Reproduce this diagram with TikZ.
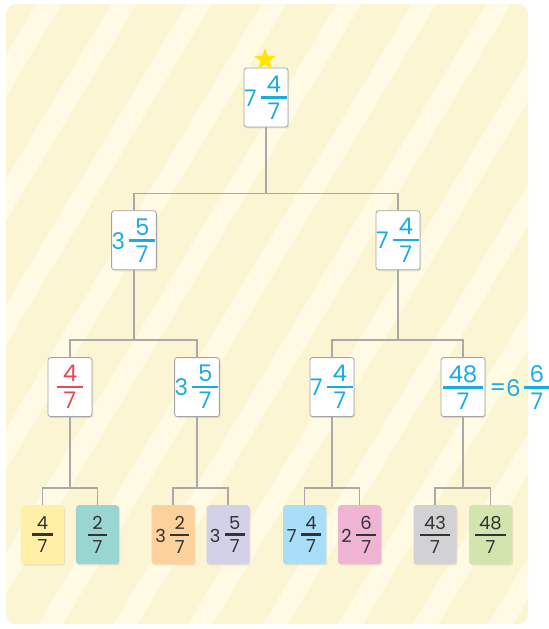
\documentclass[tikz,border=0pt]{standalone}
\usepackage{fix-cm}
\usepackage{amsmath}
\usepackage{xcolor}
\usepackage{fontspec}
\setmainfont{Poppins}
\usepackage{tikz}
\usetikzlibrary{shapes.geometric, positioning, shadows}

\definecolor{bgyellow}{HTML}{FCF5D3}
\definecolor{stripecol}{HTML}{FEFAE3}
\definecolor{numblue}{HTML}{1AABE3}
\definecolor{numred}{HTML}{E8485A}
\definecolor{inkdark}{HTML}{333333}
\definecolor{wiregray}{HTML}{A9A9A9}
\definecolor{cardedge}{HTML}{A5A5A5}
\definecolor{starcol}{HTML}{FFE600}
\definecolor{leafyellow}{HTML}{FFF0A6}
\definecolor{leafteal}{HTML}{9AD6D1}
\definecolor{leaforange}{HTML}{FDD19C}
\definecolor{leaflilac}{HTML}{D3D1E8}
\definecolor{leafblue}{HTML}{A9DEF9}
\definecolor{leafpink}{HTML}{EFB4D4}
\definecolor{leafgray}{HTML}{D2D2D4}
\definecolor{leafgreen}{HTML}{D3E5AF}

% fraction with a bar a little wider than its digits
\newcommand{\fracval}[2]{\genfrac{}{}{2.5bp}{1}%
  {\mbox{\kern.25em\raisebox{0pt}[\height][1.5bp]{#1}\kern.25em}}%
  {\mbox{\raisebox{0pt}[\dimexpr\height+1.5bp\relax][0pt]{#2}}}}
\newcommand{\wholeval}[1]{\mbox{\raisebox{-3bp}{#1}}\kern3bp}
\newcommand{\mixval}[3]{$\wholeval{#1}\fracval{#2}{#3}$}

\begin{document}
\begin{tikzpicture}[x=1bp, y=-1bp]
    % Styles
    \tikzstyle{card} = [rectangle, draw=cardedge, line width=0.8bp, fill=white, text=numblue, rounded corners=2.5bp, minimum width=44bp, minimum height=59bp, inner sep=0pt, font=\fontsize{23}{27}\selectfont, drop shadow={shadow xshift=1.2bp, shadow yshift=-1.5bp, opacity=0.18}]
    \tikzstyle{leaf} = [rectangle, rounded corners=3bp, minimum width=43bp, minimum height=59bp, inner sep=0pt, text=inkdark, font=\fontsize{18}{22}\selectfont, drop shadow={shadow xshift=1.2bp, shadow yshift=-1.5bp, opacity=0.15}]
    \tikzstyle{wire} = [draw=wiregray, line width=1.5bp]

    % --- BACKGROUND ---
    \useasboundingbox (0,0) rectangle (549,629);
    \fill[bgyellow, rounded corners=10bp] (6,4) rectangle (528,624);
    \begin{scope}
      \clip[rounded corners=10bp] (6,4) rectangle (528,624);
      \foreach \k in {0,...,12}
        \fill[stripecol] ({39+75*\k},0) -- ++(25,0) -- ++(-379,629) -- ++(-25,0) -- cycle;
    \end{scope}

    % --- ROOT ---
    \node[card] (root) at (266,97.5) {\mixval{7}{4}{7}};
    \node[star, star points=5, star point ratio=2.3, fill=starcol, minimum size=22bp, inner sep=0pt, above=3bp of root, xshift=-1bp] (topstar) {};

    % --- LEVEL 2 ---
    \node[card, below=83bp of root, xshift=-132bp] (left) {\mixval{3}{5}{7}};
    \node[card, below=83bp of root, xshift=132bp] (right) {\mixval{7}{4}{7}};

    % --- LEVEL 3 ---
    \node[card, below=87bp of left, xshift=-64bp, text=numred] (lpart) {$\fracval{4}{7}$};
    \node[card, below=87bp of left, xshift=63bp] (lwhole) {\mixval{3}{5}{7}};
    \node[card, below=87bp of right, xshift=-66bp] (rwhole) {\mixval{7}{4}{7}};
    \node[card, below=87bp of right, xshift=65bp] (rimp) {$\fracval{48}{7}$};
    \node[right=4bp of rimp, inner sep=0pt, text=numblue, font=\fontsize{23}{27}\selectfont] (rmixed) {$\mbox{\raisebox{-2bp}{=}}\wholeval{6}\kern-1bp\fracval{6}{7}$};

    % --- LEAVES ---
    \node[leaf, fill=leafyellow, below=88bp of lpart, xshift=-27.5bp] (pa) {$\fracval{4}{7}$};
    \node[leaf, fill=leafteal, below=88bp of lpart, xshift=27.5bp] (pb) {$\fracval{2}{7}$};
    \node[leaf, fill=leaforange, below=88bp of lwhole, xshift=-24bp] (wa) {\mixval{3}{2}{7}};
    \node[leaf, fill=leaflilac, below=88bp of lwhole, xshift=31bp] (wb) {\mixval{3}{5}{7}};
    \node[leaf, fill=leafblue, below=88bp of rwhole, xshift=-27.5bp] (ra) {\mixval{7}{4}{7}};
    \node[leaf, fill=leafpink, below=88bp of rwhole, xshift=27.5bp] (rb) {\mixval{2}{6}{7}};
    \node[leaf, fill=leafgray, below=88bp of rimp, xshift=-28bp] (ia) {$\fracval{43}{7}$};
    \node[leaf, fill=leafgreen, below=88bp of rimp, xshift=27.5bp] (ib) {$\fracval{48}{7}$};

    % --- CONNECTIONS ---
    \coordinate[below=66bp of root] (fork);
    \path [wire] (root) -- (fork);
    \path [wire] (left) |- (fork) -| (right);

    \coordinate[below=70bp of left] (forkl);
    \coordinate[below=70bp of right] (forkr);
    \path [wire] (left) -- (forkl);
    \path [wire] (right) -- (forkr);
    \path [wire] (lpart) |- (forkl) -| (lwhole);
    \path [wire] (rwhole) |- (forkr) -| (rimp);

    % Leaf forks
    \coordinate[below=71bp of lpart] (forkpa);
    \coordinate[below=71bp of lwhole] (forkwa);
    \coordinate[below=71bp of rwhole] (forkra);
    \coordinate[below=71bp of rimp] (forkia);
    \path [wire] (lpart) -- (forkpa);
    \path [wire] (lwhole) -- (forkwa);
    \path [wire] (rwhole) -- (forkra);
    \path [wire] (rimp) -- (forkia);
    \path [wire] (pa) |- (forkpa) -| (pb);
    \path [wire] (wa) |- (forkwa) -| (wb);
    \path [wire] (ra) |- (forkra) -| (rb);
    \path [wire] (ia) |- (forkia) -| (ib);

\end{tikzpicture}
\end{document}
